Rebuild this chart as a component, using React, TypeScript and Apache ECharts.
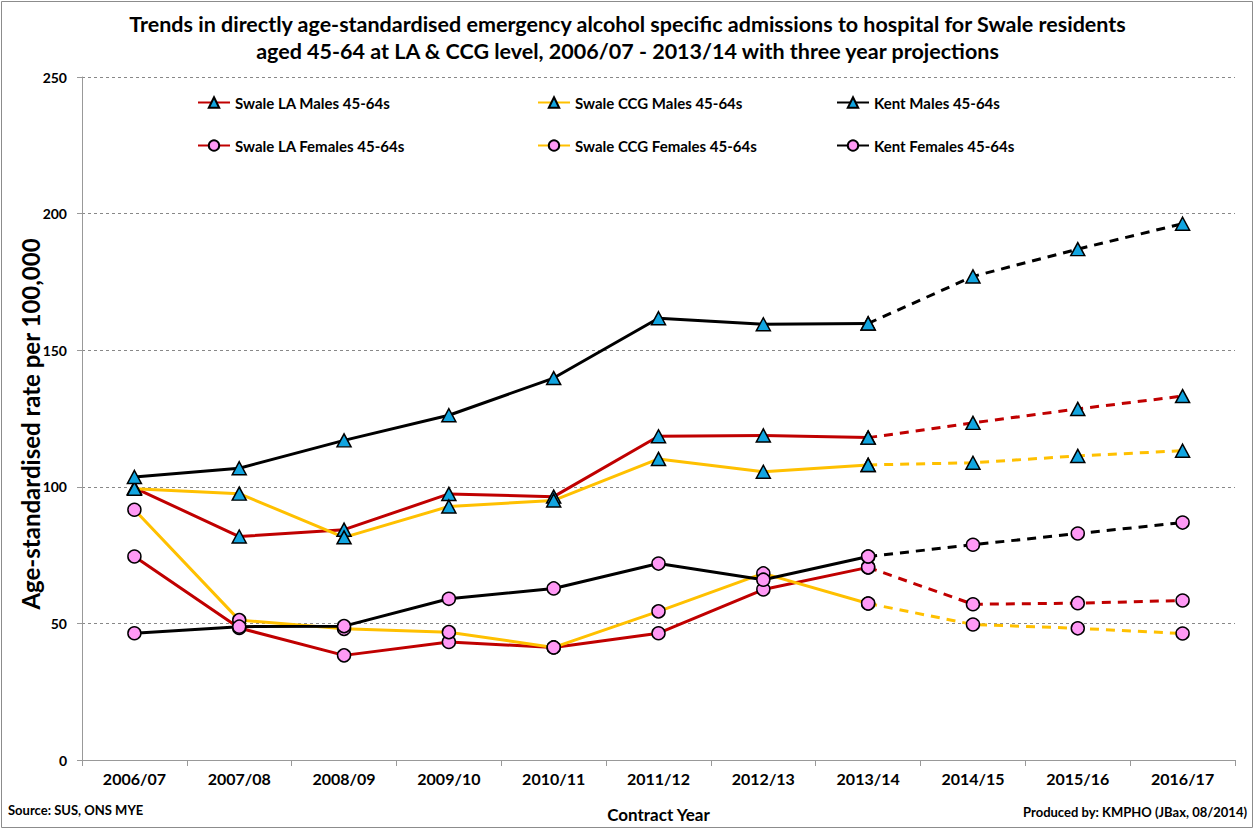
import React, { useEffect, useRef } from "react";
import * as echarts from "echarts";

const categories = ["2006/07", "2007/08", "2008/09", "2009/10", "2010/11", "2011/12", "2012/13", "2013/14", "2014/15", "2015/16", "2016/17"];
const yTicks = [0, 50, 100, 150, 200, 250];

const swaleLAMales = [99.6, 81.8, 84.3, 97.4, 96.4, 118.5, 118.8, 118.0, 123.4, 128.5, 133.2];
const swaleCCGMales = [99.3, 97.5, 81.5, 92.8, 95.0, 110.2, 105.5, 108.0, 108.8, 111.3, 113.2];
const kentMales = [103.6, 106.8, 117.0, 126.2, 139.8, 161.7, 159.5, 159.8, 177.0, 187.0, 196.3];
const swaleLAFemales = [74.5, 48.3, 38.3, 43.2, 41.2, 46.4, 62.4, 70.5, 57.0, 57.4, 58.4];
const swaleCCGFemales = [91.6, 51.2, 48.0, 46.8, 41.2, 54.4, 68.3, 57.3, 49.6, 48.2, 46.3];
const kentFemales = [46.4, 48.8, 49.0, 59.0, 62.8, 71.9, 66.0, 74.5, 78.8, 82.9, 86.9];

const seriesNames = [
  "Swale LA Males 45-64s",
  "Swale CCG Males 45-64s",
  "Kent Males 45-64s",
  "Swale LA Females 45-64s",
  "Swale CCG Females 45-64s",
  "Kent Females 45-64s",
];
const seriesValues = [swaleLAMales, swaleCCGMales, kentMales, swaleLAFemales, swaleCCGFemales, kentFemales];
const lineColors = ["#C00000", "#FFC000", "#000000", "#C00000", "#FFC000", "#000000"];
const projectionStart = 7;

const FONT = "Lato";

export default function App() {
  const ref = useRef<HTMLDivElement>(null);
  useEffect(() => {
    document.body.style.margin = "0";
    const chart = echarts.init(ref.current!, null, { renderer: "svg" });
    const series: any[] = [];
    seriesValues.forEach((vals, i) => {
      const isMale = i < 3;
      const marker = isMale
        ? { symbol: "triangle", symbolSize: [14, 13], itemStyle: { color: "#12A5E0", borderColor: "#000", borderWidth: 1.5 } }
        : { symbol: "circle", symbolSize: [13, 13], itemStyle: { color: "#FF99F5", borderColor: "#000", borderWidth: 1.5 } };
      const solid = vals.map((v, j) => (j <= projectionStart ? v : null));
      const dashed = vals.map((v, j) => (j >= projectionStart ? v : null));
      series.push({
        name: seriesNames[i],
        type: "line",
        data: solid,
        ...marker,
        lineStyle: { color: lineColors[i], width: 3 },
        z: isMale ? 3 : 2,
      });
      series.push({
        name: seriesNames[i],
        type: "line",
        data: dashed,
        ...marker,
        lineStyle: { color: lineColors[i], width: 3, type: [9, 7] },
        z: isMale ? 3 : 2,
      });
    });
    const legendCol = (names: string[], left: number) => ({
      left,
      top: 95,
      padding: 0,
      orient: "vertical",
      itemGap: 28,
      itemWidth: 32,
      itemHeight: 13,
      data: names,
      textStyle: { fontFamily: FONT, fontWeight: "bold", fontSize: 15, color: "#000" },
    });
    chart.setOption({
      animation: false,
      backgroundColor: "#fff",
      title: {
        text: "Trends in directly age-standardised emergency alcohol specific admissions to hospital for Swale residents\naged 45-64 at LA & CCG level, 2006/07 - 2013/14 with three year projections",
        left: "center",
        top: 5,
        textStyle: { fontFamily: FONT, fontWeight: "bold", fontSize: 21.5, lineHeight: 27, color: "#000", align: "center" },
      },
      legend: [
        legendCol([seriesNames[0], seriesNames[3]], 197),
        legendCol([seriesNames[1], seriesNames[4]], 537),
        legendCol([seriesNames[2], seriesNames[5]], 836),
      ],
      grid: { left: 82, right: 20, top: 77, bottom: 70, containLabel: false },
      xAxis: {
        type: "category",
        data: categories,
        boundaryGap: true,
        axisLine: { lineStyle: { color: "#999", width: 1 } },
        axisTick: { show: true, interval: 0, length: 6, lineStyle: { color: "#999" } },
        axisLabel: { margin: 10, fontFamily: FONT, fontWeight: "bold", fontSize: 16, color: "#000", interval: 0 },
        name: "Contract Year",
        nameLocation: "middle",
        nameGap: 46,
        nameTextStyle: { fontFamily: FONT, fontWeight: "bold", fontSize: 17, color: "#000" },
      },
      yAxis: {
        type: "value",
        min: yTicks[0],
        max: yTicks[yTicks.length - 1],
        interval: 50,
        axisLine: { show: true, lineStyle: { color: "#999", width: 1 } },
        axisTick: { show: true, length: 5, lineStyle: { color: "#999" } },
        splitLine: { show: true, lineStyle: { color: "#888", type: [3, 3], width: 1 } },
        axisLabel: { margin: 15, fontFamily: FONT, fontWeight: "bold", fontSize: 14, color: "#000" },
      },
      graphic: [
        {
          type: "rect",
          shape: { x: 1.5, y: 1.5, width: 1251, height: 826 },
          style: { fill: "none", stroke: "#8c8c8c", lineWidth: 1 },
          silent: true,
        },
        {
          type: "text",
          x: 30,
          y: 424,
          rotation: Math.PI / 2,
          style: {
            text: "Age-standardised rate per 100,000",
            fontFamily: FONT,
            fontWeight: "bold",
            fontSize: 24,
            fill: "#000",
            align: "center",
            verticalAlign: "middle",
          },
        },
        {
          type: "text",
          left: 8,
          top: 803,
          style: { text: "Source: SUS, ONS MYE", fontFamily: FONT, fontWeight: "bold", fontSize: 13, fill: "#000" },
        },
        {
          type: "text",
          right: 8,
          top: 805,
          style: { text: "Produced by: KMPHO (JBax, 08/2014)", fontFamily: FONT, fontWeight: "bold", fontSize: 13, fill: "#000" },
        },
      ],
      series,
    });
    return () => chart.dispose();
  }, []);
  return <div ref={ref} style={{ width: 1255, height: 830 }} />;
}
